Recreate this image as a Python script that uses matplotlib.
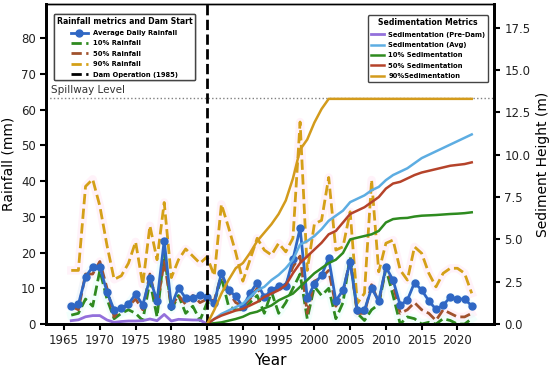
#import libraries
import numpy as np
import matplotlib.pyplot as plt

#rainfall data (mm), 1966-2022
years = list(range(1966, 2023))
avg_rain = [5.0, 5.5, 13.2, 16.0, 16.0, 9.0, 3.9, 4.4, 5.6, 8.4, 5.3, 12.8, 6.5, 23.3, 5.0,
            10.2, 7.2, 7.2, 8.2, 7.6, 5.8, 14.3, 9.5, 7.8, 4.8, 8.6, 11.6, 7.5, 9.5, 10.6,
            10.6, 18.1, 26.8, 7.2, 11.2, 13.7, 18.4, 6.5, 9.5, 17.4, 3.9, 3.9, 10.0, 6.5, 15.9,
            12.3, 5.3, 6.7, 11.6, 9.5, 6.5, 4.1, 5.3, 7.5, 7.0, 7.0, 5.1]
rain10 = [2.5, 3.0, 7.0, 5.0, 15.0, 7.0, 1.5, 3.0, 4.0, 3.0, 1.0, 12.0, 2.0, 20.0, 4.0,
          8.0, 3.0, 5.0, 1.0, 6.0, 6.0, 13.0, 5.0, 4.0, 4.0, 6.0, 8.0, 3.0, 9.0, 3.0,
          6.0, 10.0, 14.0, 1.5, 10.5, 8.0, 10.0, 1.5, 6.0, 19.0, 3.0, 1.0, 4.0, 5.5, 15.5,
          8.0, 0.0, 2.0, 1.5, 0.0, 0.5, 0.0, 1.5, 1.0, 0.0, 0.0, 1.5]
rain50 = [5.0, 4.0, 14.0, 14.0, 17.5, 10.0, 2.0, 4.5, 5.0, 7.0, 4.0, 14.0, 5.0, 17.5, 5.0,
          8.0, 5.5, 8.0, 6.0, 7.0, 6.5, 14.0, 9.0, 6.0, 5.0, 7.0, 10.0, 7.0, 9.0, 10.0,
          11.0, 16.0, 19.0, 3.0, 12.0, 13.0, 15.0, 5.0, 9.0, 18.0, 3.0, 3.0, 11.0, 6.0, 16.0,
          11.0, 3.0, 4.0, 6.0, 4.0, 3.0, 1.0, 4.0, 3.0, 2.0, 2.0, 3.0]
rain90 = [15.0, 15.0, 38.5, 40.5, 33.0, 22.0, 12.5, 13.5, 17.0, 23.0, 11.0, 27.5, 18.0, 34.0, 13.0,
          18.0, 21.0, 19.0, 17.0, 18.8, 13.5, 33.5, 27.0, 20.0, 12.0, 18.0, 24.0, 20.7, 19.3, 22.6,
          20.2, 24.0, 56.5, 15.0, 28.0, 29.0, 41.0, 20.7, 21.6, 31.4, 5.8, 8.6, 40.3, 14.6, 22.6,
          23.5, 15.1, 12.3, 21.6, 19.8, 14.2, 10.4, 14.2, 15.6, 15.6, 14.2, 8.6]

#sedimentation data (m)
pre_years = list(range(1966, 1986))
sed_pre = [0.2, 0.25, 0.43, 0.5, 0.5, 0.24, 0.1, 0.15, 0.18, 0.18, 0.2, 0.3, 0.2, 0.57, 0.18,
           0.28, 0.26, 0.24, 0.24, 0.0]
post_years = list(range(1985, 2023))
sed_avg = [0.0, 0.3, 0.6, 0.8, 1.0, 1.2, 1.6, 2.0, 2.2, 2.6, 2.9, 3.3, 3.8, 4.7, 4.9,
           5.2, 5.6, 6.1, 6.4, 6.7, 7.2, 7.4, 7.6, 7.9, 8.1, 8.5, 8.8, 9.0, 9.2, 9.5,
           9.8, 10.0, 10.2, 10.4, 10.6, 10.8, 11.0, 11.2]
sed10 = [0.0, 0.05, 0.1, 0.2, 0.3, 0.43, 0.63, 0.73, 0.93, 1.1, 1.4, 1.6, 1.8, 2.2, 2.6,
         3.0, 3.3, 3.6, 3.8, 4.2, 5.0, 5.1, 5.2, 5.3, 5.5, 6.0, 6.2, 6.25, 6.27, 6.35,
         6.4, 6.42, 6.44, 6.47, 6.5, 6.52, 6.55, 6.6]
sed50 = [0.0, 0.3, 0.5, 0.65, 0.8, 0.9, 1.1, 1.3, 1.6, 1.8, 2.0, 2.3, 3.0, 3.6, 4.0,
         4.4, 4.8, 5.3, 5.5, 6.0, 6.5, 6.7, 6.9, 7.2, 7.5, 8.0, 8.3, 8.4, 8.6, 8.8,
         8.95, 9.05, 9.15, 9.25, 9.35, 9.4, 9.45, 9.55]
sed90 = [0.0, 0.83, 1.8, 2.6, 3.3, 3.6, 4.2, 4.9, 5.4, 5.9, 6.5, 7.3, 8.6, 10.3, 10.9,
         11.9, 12.7, 13.3, 13.3, 13.3, 13.3, 13.3, 13.3, 13.3, 13.3, 13.3, 13.3, 13.3, 13.3, 13.3,
         13.3, 13.3, 13.3, 13.3, 13.3, 13.3, 13.3, 13.3]
spillway = 63.3
dam_year = 1985

#create the figure
fig = plt.figure(figsize=(5.5, 3.67), dpi=100)
ax = fig.add_axes([0.084, 0.117, 0.814, 0.872])
ax2 = ax.twinx()

#faint glow behind the rainfall lines
for vals, gc in [(rain90, '#ffe3f2'), (rain50, '#ffe3f2'), (rain10, '#e3fff9'), (avg_rain, '#e0fcff')]:
    ax.plot(years, vals, color=gc, lw=6, alpha=0.45, zorder=1)

l1, = ax.plot(years, avg_rain, color='#2f67c4', lw=2, marker='o', ms=5, zorder=5,
              label='Average Daily Rainfall')
l2, = ax.plot(years, rain10, color='#2f8a1f', lw=2, ls='--', zorder=3, label='10% Rainfall')
l3, = ax.plot(years, rain50, color='#a0522d', lw=2, ls='--', zorder=3, label='50% Rainfall')
l4, = ax.plot(years, rain90, color='#d4a017', lw=2, ls='--', zorder=3, label='90% Rainfall')
l5 = ax.axvline(dam_year, color='black', lw=2, ls='--', zorder=6, label='Dam Operation (1985)')
ax.axhline(spillway, color='gray', lw=1, ls=':', zorder=2)
ax.text(1963.2, spillway + 1.2, 'Spillway Level', fontsize=7.5, color='#333333')

s1, = ax2.plot(pre_years, sed_pre, color='#9370db', lw=2, label='Sedimentation (Pre-Dam)')
s2, = ax2.plot(post_years, sed_avg, color='#5dade2', lw=1.8, label='Sedimentation (Avg)')
s3, = ax2.plot(post_years, sed10, color='#2e8b1f', lw=1.8, label='10% Sedimentation')
s4, = ax2.plot(post_years, sed50, color='#b5432a', lw=1.8, label='50% Sedimentation')
s5, = ax2.plot(post_years, sed90, color='#d39b1c', lw=1.8, label='90%Sedimentation')

ax.set_xlim(1962.5, 2025.1)
ax.set_ylim(0, 89.5)
ax2.set_ylim(0, 18.9)
ax.set_xticks(range(1965, 2021, 5))
ax.set_yticks(range(0, 81, 10))
ax2.set_yticks(np.arange(0, 17.6, 2.5))
ax.set_xlabel('Year', fontsize=11)
ax.set_ylabel('Rainfall (mm)', fontsize=10)
ax2.set_ylabel('Sediment Height (m)', fontsize=10)

for a in (ax, ax2):
    a.tick_params(labelsize=8.5, width=1.5, length=4, colors='black', labelcolor='#222222')
    for sp in a.spines.values():
        sp.set_linewidth(2)
ax.spines['top'].set_linewidth(1)
ax2.spines['top'].set_linewidth(1)

leg1 = ax.legend(handles=[l1, l2, l3, l4, l5], loc='upper left', bbox_to_anchor=(0.01, 0.98),
                 title='Rainfall metrics and Dam Start', fontsize=4.9, handlelength=2.4,
                 labelspacing=0.65, borderpad=0.4, handletextpad=0.8,
                 edgecolor='#444444', framealpha=1)
leg1.get_title().set_fontweight('bold')
leg1.get_title().set_fontsize(5.6)
for t in leg1.get_texts():
    t.set_fontweight('bold')
ax.add_artist(leg1)

leg2 = ax2.legend(handles=[s1, s2, s3, s4, s5], loc='upper right', bbox_to_anchor=(0.995, 0.975),
                  title='Sedimentation Metrics', fontsize=4.9, handlelength=2.0,
                  labelspacing=0.65, borderpad=0.4, handletextpad=0.6,
                  edgecolor='#444444', framealpha=1)
leg2.get_title().set_fontweight('bold')
leg2.get_title().set_fontsize(5.6)
for t in leg2.get_texts():
    t.set_fontweight('bold')

fig.savefig('out.png', dpi=100)
